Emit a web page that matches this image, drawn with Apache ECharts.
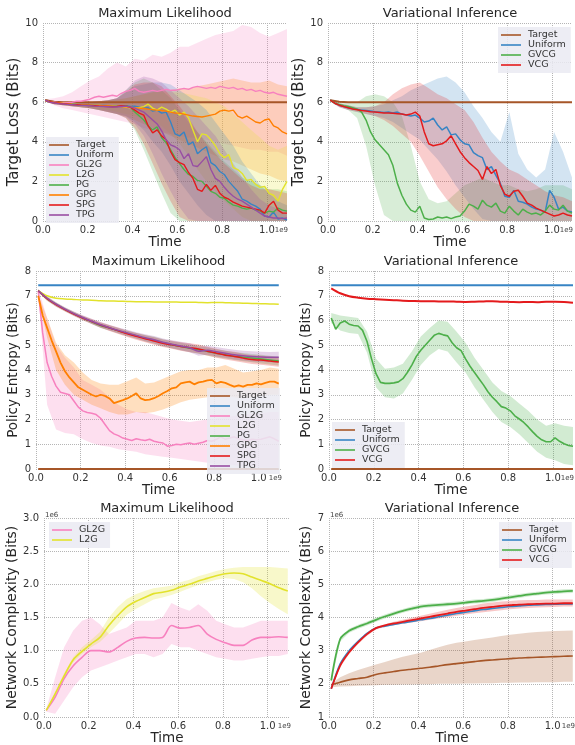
<!DOCTYPE html>
<html>
<head>
<meta charset="utf-8">
<script src="https://cdn.jsdelivr.net/npm/echarts@6/dist/echarts.min.js"></script>
<style>
  html, body { margin: 0; padding: 0; background: #fff; }
  #chart { width: 575px; height: 745px; }
</style>
</head>
<body>
<div id="chart"></div>
<script>
// time axis samples (units of 1e9)
const xFine = [0.01,0.03,0.05,0.07,0.09,0.11,0.13,0.15,0.17,0.19,
  0.21,0.23,0.25,0.27,0.29,0.31,0.33,0.35,0.37,0.39,
  0.41,0.43,0.45,0.47,0.49,0.51,0.53,0.55,0.57,0.59,
  0.61,0.63,0.65,0.67,0.69,0.71,0.73,0.75,0.77,0.79,
  0.81,0.83,0.85,0.87,0.89,0.91,0.93,0.95,0.97,0.99,
  1.01,1.03,1.05,1.07,1.09];
const xCoarse = [0.01,0.05,0.09,0.13,0.17,0.21,0.25,0.29,0.33,0.37,
  0.41,0.45,0.49,0.53,0.57,0.61,0.65,0.69,0.73,0.77,
  0.81,0.85,0.89,0.93,0.97,1.01,1.05,1.09];
const xEnds = [0.01, 1.09];

// ---- Maximum Likelihood / Target Loss ----
const mlLossTarget = [6.1,6.02,6.0,6.0,6.0,6.0,6.0,6.0,6.0,6.0,
  6.0,6.0,6.0,6.0,6.0,6.0,6.0,6.0,6.0,6.0,
  6.0,6.0,6.0,6.0,6.0,6.0,6.0,6.0];
const mlLossUniform = [6.1,6.02,5.98,5.96,5.94,5.92,5.91,5.9,5.88,5.87,
  5.86,5.85,5.84,5.83,5.82,5.81,5.8,5.8,5.82,5.78,
  5.8,5.75,5.7,5.72,5.55,5.6,5.45,5.5,5.0,4.4,
  4.3,4.5,3.85,4.0,3.4,3.6,3.75,2.95,2.8,2.5,
  2.35,2.0,1.75,1.5,1.1,1.0,0.85,0.75,0.6,0.25,
  0.2,0.45,0.1,0.15,0.05];
const mlLossGL2G = [6.1,6.02,6.0,5.98,5.97,5.98,6.0,6.05,6.05,6.1,
  6.15,6.25,6.3,6.25,6.3,6.35,6.3,6.45,6.55,6.6,
  6.7,6.55,6.5,6.55,6.6,6.55,6.6,6.65,6.6,6.6,
  6.65,6.7,6.65,6.75,6.8,6.75,6.7,6.75,6.7,6.8,
  6.75,6.7,6.75,6.65,6.7,6.6,6.65,6.55,6.6,6.5,
  6.45,6.5,6.4,6.35,6.3];
const mlLossL2G = [6.1,6.02,5.98,5.96,5.94,5.92,5.9,5.89,5.88,5.86,
  5.85,5.84,5.83,5.82,5.81,5.8,5.78,5.8,5.75,5.72,
  5.7,5.72,5.78,5.9,5.7,5.6,5.75,5.65,5.5,5.6,
  5.35,5.5,5.2,4.6,4.0,4.4,4.35,4.1,3.8,3.4,
  3.2,3.35,2.7,2.6,2.4,2.05,2.1,1.85,1.7,1.75,
  1.4,1.3,1.0,1.6,2.0];
const mlLossPG = [6.1,6.02,5.97,5.95,5.93,5.91,5.89,5.87,5.86,5.85,
  5.83,5.82,5.81,5.8,5.79,5.78,5.78,5.8,5.82,5.75,
  5.5,5.3,5.1,4.8,4.6,4.75,4.2,3.95,3.6,3.2,
  2.9,2.6,2.35,2.25,2.05,2.0,1.75,1.5,1.4,1.2,
  1.15,0.95,0.8,0.75,0.65,0.6,0.65,0.55,0.5,0.4,
  0.5,0.45,0.65,0.55,0.5];
const mlLossGPG = [6.1,6.02,5.98,5.96,5.94,5.92,5.9,5.89,5.87,5.86,
  5.85,5.84,5.83,5.82,5.81,5.8,5.79,5.78,5.77,5.75,
  5.72,5.7,5.68,5.65,5.62,5.6,5.58,5.55,5.5,5.45,
  5.45,5.4,5.35,5.3,5.28,5.25,5.3,5.35,5.4,5.55,
  5.6,5.55,5.6,5.3,5.2,5.3,5.15,5.0,4.95,5.1,
  5.15,4.8,4.7,4.5,4.4];
const mlLossSPG = [6.1,6.02,5.97,5.95,5.92,5.9,5.88,5.87,5.85,5.84,
  5.83,5.82,5.8,5.79,5.78,5.77,5.78,5.82,5.8,5.75,
  5.6,5.45,5.35,4.8,4.45,4.6,4.3,4.1,3.5,3.1,
  2.95,2.85,2.45,2.15,1.6,1.5,1.85,1.55,1.8,1.4,
  1.2,1.1,0.95,0.85,0.75,0.7,0.65,0.6,0.55,0.4,
  0.8,1.0,0.55,0.4,0.4];
const mlLossTPG = [6.1,6.0,5.96,5.93,5.91,5.89,5.87,5.85,5.84,5.83,
  5.82,5.8,5.79,5.78,5.77,5.76,5.76,5.78,5.8,5.75,
  5.7,5.6,5.5,5.3,5.1,4.9,4.55,4.1,3.85,3.75,
  3.6,3.15,3.4,2.8,2.75,3.0,3.25,2.6,2.15,2.0,
  1.7,1.45,1.25,1.1,1.0,0.85,0.7,0.55,0.4,0.25,
  0.2,0.15,0.15,0.12,0.15];
// spread bands (on xCoarse)
const mlLossUniformLo = [6.05,5.9,5.85,5.8,5.75,5.7,5.6,5.5,5.4,5.3,5.0,4.6,4.0,3.5,2.8,2.0,1.4,0.8,0.3,0,0,0,0,0,0,0,0,0];
const mlLossUniformHi = [6.15,6.05,6.0,6.0,6.0,6.0,6.05,6.1,6.2,6.5,6.8,6.9,7.0,7.0,6.9,6.6,6.3,6.0,5.6,5.0,4.4,3.8,3.0,2.4,1.8,1.4,1.0,0.8];
const mlLossGL2GLo = [6.05,5.85,5.7,5.6,5.5,5.4,5.3,5.2,5.1,5.0,4.9,4.7,4.6,4.5,4.4,4.3,4.2,4.2,4.1,4.0,3.9,3.8,3.7,3.6,3.6,3.5,3.5,3.3];
const mlLossGL2GHi = [6.15,6.2,6.3,6.5,6.8,7.1,7.3,7.7,8.0,7.8,8.2,8.1,8.4,8.3,8.5,8.8,8.8,9.0,9.2,9.4,9.5,9.6,9.9,9.8,9.5,9.3,9.5,9.7];
const mlLossL2GLo = [6.05,5.9,5.85,5.8,5.75,5.7,5.65,5.6,5.5,5.4,5.3,5.2,5.0,4.8,4.4,3.9,3.3,2.6,2.0,1.5,1.0,0.6,0.2,0,0,0,0,0];
const mlLossL2GHi = [6.15,6.05,6.0,6.0,6.0,6.0,6.0,6.05,6.1,6.2,6.3,6.4,6.5,6.5,6.5,6.5,6.4,6.3,6.2,6.0,5.8,5.4,5.0,4.6,4.2,3.8,3.6,3.8];
const mlLossPGLo = [6.05,5.9,5.85,5.8,5.75,5.7,5.6,5.5,5.4,5.2,4.6,3.6,2.5,1.4,0.4,0,0,0,0,0,0,0,0,0,0,0,0,0];
const mlLossPGHi = [6.15,6.05,6.0,6.0,6.0,6.0,6.05,6.1,6.2,6.6,7.0,7.2,7.0,6.6,6.2,5.6,5.0,4.5,4.0,3.5,3.0,2.6,2.2,2.0,1.8,1.6,1.6,1.5];
const mlLossGPGLo = [6.05,5.9,5.85,5.8,5.75,5.7,5.6,5.5,5.4,5.3,5.1,4.9,4.7,4.5,4.3,4.1,3.9,3.7,3.5,3.3,3.1,3.0,2.8,2.6,2.4,2.3,2.1,2.0];
const mlLossGPGHi = [6.15,6.05,6.0,6.0,6.0,6.0,6.05,6.1,6.15,6.2,6.3,6.4,6.5,6.6,6.6,6.7,6.7,6.8,6.9,7.0,7.1,7.2,7.1,7.0,7.0,7.1,6.9,6.8];
const mlLossSPGLo = [6.05,5.9,5.85,5.8,5.75,5.7,5.6,5.5,5.4,5.2,4.7,3.9,2.9,1.9,1.0,0.2,0,0,0,0,0,0,0,0,0,0,0,0];
const mlLossSPGHi = [6.15,6.05,6.0,6.0,6.0,6.0,6.05,6.1,6.2,6.5,6.9,7.0,7.0,6.8,6.3,5.8,5.2,4.5,3.9,3.4,2.9,2.5,2.1,1.8,1.6,1.6,1.5,1.4];
const mlLossTPGLo = [6.05,5.9,5.85,5.8,5.75,5.7,5.6,5.5,5.4,5.25,4.9,4.3,3.4,2.4,1.5,0.7,0.1,0,0,0,0,0,0,0,0,0,0,0];
const mlLossTPGHi = [6.15,6.05,6.0,6.0,6.0,6.0,6.05,6.1,6.2,6.6,7.1,7.3,7.2,7.0,6.6,6.2,5.8,5.3,4.8,4.3,3.6,2.9,2.2,1.6,1.1,0.8,0.6,0.5];

// ---- Variational Inference / Target Loss ----
const viLossTarget = [6.1,6.02,6.0,6.0,6.0,6.0,6.0,6.0,6.0,6.0,
  6.0,6.0,6.0,6.0,6.0,6.0,6.0,6.0,6.0,6.0,
  6.0,6.0,6.0,6.0,6.0,6.0,6.0,6.0];
const viLossUniform = [6.1,5.95,5.85,5.78,5.72,5.68,5.64,5.6,5.58,5.55,
  5.52,5.5,5.48,5.5,5.45,5.5,5.4,5.35,5.3,5.35,
  5.2,5.0,5.05,5.2,4.85,4.6,4.75,4.35,4.4,4.1,
  3.9,3.85,3.45,3.3,3.2,2.6,2.75,2.3,1.9,1.25,
  1.2,1.55,1.0,0.95,0.85,0.7,0.6,0.55,0.45,1.55,
  1.2,0.6,0.7,0.5,0.45];
const viLossGVCG = [6.1,5.95,5.88,5.82,5.78,5.72,5.65,5.5,5.1,4.5,
  4.1,3.85,3.6,3.35,2.8,1.9,1.3,0.85,0.55,0.45,
  0.75,0.15,0.08,0.1,0.2,0.15,0.2,0.12,0.2,0.25,
  0.5,0.85,0.75,0.6,1.05,0.8,0.7,0.9,0.5,0.4,
  0.75,0.5,0.3,0.6,0.45,0.35,0.4,0.3,0.5,0.8,
  0.6,0.55,0.8,0.5,0.4];
const viLossVCG = [6.1,5.95,5.85,5.78,5.72,5.66,5.62,5.58,5.55,5.52,
  5.5,5.48,5.46,5.45,5.44,5.42,5.4,5.35,5.4,5.5,
  5.3,4.5,3.9,3.8,3.85,3.9,4.05,4.3,3.9,3.5,
  3.2,2.95,2.75,2.55,2.1,2.75,2.4,2.6,1.8,1.35,
  1.25,1.5,1.55,1.25,0.9,0.8,0.65,0.55,0.45,0.35,
  0.25,0.3,0.4,0.3,0.25];
const viLossUniformLo = [6.05,5.75,5.6,5.5,5.4,5.3,5.2,5.0,4.7,4.4,4.1,3.6,3.1,2.5,1.8,1.2,0.6,0.1,0,0,0,0,0,0,0,0,0,0];
const viLossUniformHi = [6.15,5.95,5.85,5.75,5.75,5.8,5.9,6.1,6.3,6.6,6.8,7.0,7.2,7.3,7.0,6.5,5.8,5.2,4.5,4.0,5.5,3.4,2.6,2.2,2.6,4.5,3.5,2.2];
const viLossGVCGLo = [6.05,5.8,5.6,5.2,3.8,1.8,0.3,0,0,0,0,0,0,0,0,0,0,0,0,0,0,0,0,0,0,0,0,0];
const viLossGVCGHi = [6.15,6.0,5.95,6.0,6.3,6.4,6.3,6.0,5.3,3.8,2.0,1.1,0.9,1.0,1.4,1.8,2.0,2.2,2.0,1.8,1.8,1.6,1.5,1.6,1.8,1.8,1.8,1.6];
const viLossVCGLo = [6.05,5.75,5.6,5.5,5.4,5.3,5.1,4.8,4.4,4.0,3.3,2.5,1.7,1.1,0.6,0.2,0,0,0,0,0,0,0,0,0,0,0,0];
const viLossVCGHi = [6.15,5.95,5.85,5.75,5.75,5.8,6.0,6.4,6.7,6.9,7.0,6.7,6.4,6.2,5.9,5.6,5.0,4.2,3.5,3.0,2.6,2.4,2.1,1.8,1.5,1.3,1.2,1.0];

// ---- Maximum Likelihood / Policy Entropy ----
const mlEntTarget = [0, 0];
const mlEntUniform = [7.42, 7.42];
const mlEntL2G = [7.2,7.0,6.9,6.87,6.85,6.83,6.82,6.8,6.79,6.78,
  6.77,6.76,6.76,6.75,6.75,6.75,6.74,6.74,6.73,6.72,
  6.73,6.72,6.71,6.7,6.69,6.68,6.67,6.66];
const mlEntPG = [7.2,6.88,6.65,6.45,6.27,6.1,5.95,5.8,5.7,5.58,
  5.48,5.38,5.28,5.2,5.1,5.02,4.95,4.88,4.82,4.75,
  4.68,4.62,4.56,4.52,4.48,4.44,4.4,4.36];
const mlEntSPG = [7.2,6.88,6.64,6.44,6.26,6.1,5.96,5.82,5.7,5.58,
  5.46,5.36,5.26,5.17,5.08,5.02,4.95,4.9,4.85,4.76,
  4.68,4.6,4.55,4.48,4.42,4.4,4.36,4.32];
const mlEntTPG = [7.2,6.9,6.66,6.46,6.28,6.12,5.97,5.83,5.71,5.6,
  5.5,5.4,5.3,5.22,5.12,5.04,4.97,4.9,4.76,4.8,
  4.74,4.68,4.62,4.58,4.55,4.53,4.52,4.52];
const mlEntGPG = [7.0,6.2,5.7,5.2,4.75,4.3,3.95,3.7,3.5,3.3,
  3.2,3.1,3.0,2.93,3.0,2.95,2.85,2.66,2.72,2.78,
  2.85,2.95,3.06,2.85,2.78,2.8,2.86,2.95,3.06,3.15,
  3.26,3.3,3.46,3.5,3.53,3.42,3.5,3.53,3.58,3.6,
  3.46,3.52,3.48,3.4,3.33,3.38,3.33,3.4,3.4,3.46,
  3.42,3.48,3.53,3.53,3.45];
const mlEntGL2G = [7.2,5.5,4.3,3.75,3.35,3.1,3.05,3.0,2.75,2.5,
  2.35,2.28,2.25,2.2,2.05,1.8,1.55,1.42,1.35,1.25,
  1.2,1.15,1.22,1.18,1.15,1.2,1.12,1.08,1.05,0.92,
  0.95,1.0,0.98,1.02,1.05,1.0,1.04,1.08,1.15,1.12,
  1.2,1.3,1.2,1.25,1.3,1.22,1.18,1.15,1.2,1.18,
  1.2,1.25,1.3,1.22,1.12];
const mlEntPGLo = [7.15,6.8,6.57,6.37,6.19,6.02,5.86,5.7,5.6,5.47,5.36,5.26,5.15,5.06,4.96,4.88,4.8,4.73,4.66,4.59,4.52,4.46,4.4,4.35,4.31,4.26,4.22,4.18];
const mlEntPGHi = [7.25,6.96,6.73,6.53,6.35,6.18,6.04,5.9,5.8,5.69,5.6,5.5,5.41,5.34,5.24,5.16,5.1,5.03,4.98,4.91,4.84,4.78,4.72,4.69,4.65,4.62,4.58,4.54];
const mlEntSPGLo = [7.15,6.8,6.56,6.36,6.18,6.01,5.86,5.71,5.58,5.45,5.33,5.22,5.12,5.02,4.93,4.86,4.78,4.72,4.67,4.58,4.5,4.42,4.36,4.3,4.24,4.21,4.17,4.13];
const mlEntSPGHi = [7.25,6.96,6.72,6.52,6.34,6.19,6.06,5.93,5.82,5.71,5.59,5.5,5.4,5.32,5.23,5.18,5.12,5.08,5.03,4.94,4.86,4.78,4.74,4.66,4.6,4.59,4.55,4.51];
const mlEntTPGLo = [7.15,6.82,6.58,6.38,6.2,6.03,5.87,5.72,5.6,5.48,5.37,5.27,5.16,5.07,4.97,4.88,4.8,4.72,4.58,4.62,4.55,4.49,4.42,4.38,4.34,4.32,4.31,4.3];
const mlEntTPGHi = [7.25,6.98,6.74,6.54,6.36,6.21,6.07,5.94,5.82,5.72,5.63,5.53,5.44,5.37,5.27,5.2,5.14,5.08,4.94,4.98,4.93,4.87,4.82,4.78,4.76,4.74,4.73,4.74];
const mlEntGPGLo = [6.95,5.3,4.0,3.4,3.0,2.8,2.6,2.45,2.3,2.2,2.2,2.3,2.25,2.3,2.4,2.55,2.7,2.8,2.85,2.9,2.95,2.95,2.9,2.85,2.9,2.95,3.0,3.0];
const mlEntGPGHi = [7.05,6.1,5.1,4.6,4.3,3.9,3.6,3.45,3.4,3.4,3.55,3.7,3.45,3.5,3.65,3.8,3.95,4.0,4.0,4.1,4.1,4.2,4.05,3.9,3.95,4.0,4.1,4.05];
const mlEntGL2GLo = [7.1,2.6,1.6,1.45,1.4,1.2,1.05,0.95,0.9,0.8,0.75,0.7,0.6,0.55,0.5,0.45,0.4,0.35,0.3,0.25,0.2,0.2,0.15,0.1,0.1,0.05,0.05,0.05];
const mlEntGL2GHi = [7.3,6.1,5.0,4.5,4.1,3.6,3.4,3.2,2.9,2.6,2.4,2.3,2.3,2.2,2.1,2.0,1.95,1.9,1.95,2.0,2.05,2.1,2.15,2.2,2.25,2.25,2.3,2.3];

// ---- Variational Inference / Policy Entropy ----
const viEntTarget = [0, 0];
const viEntUniform = [7.42, 7.42];
const viEntVCG = [7.3,7.1,6.98,6.92,6.88,6.86,6.84,6.82,6.8,6.79,
  6.78,6.78,6.77,6.77,6.76,6.75,6.76,6.77,6.78,6.76,
  6.75,6.74,6.75,6.74,6.76,6.76,6.75,6.72];
const viEntGVCG = [6.1,5.65,5.9,5.98,5.85,5.8,5.78,5.6,5.15,4.45,
  3.85,3.5,3.46,3.46,3.48,3.52,3.65,3.9,4.2,4.55,
  4.8,5.0,5.2,5.4,5.48,5.42,5.38,5.1,4.9,4.78,
  4.45,4.15,3.9,3.65,3.4,3.12,2.9,2.72,2.52,2.46,
  2.35,2.15,2.02,1.88,1.7,1.5,1.32,1.18,1.1,1.1,
  1.26,1.12,1.02,0.95,0.92];
const viEntGVCGLo = [5.9,5.6,5.5,5.45,4.7,3.3,2.9,2.85,3.05,3.6,4.2,4.6,4.85,4.75,4.3,3.9,3.3,2.8,2.3,1.9,1.7,1.4,1.05,0.7,0.45,0.35,0.2,0.15];
const viEntGVCGHi = [6.3,6.2,6.15,6.1,5.55,4.45,4.05,4.1,4.25,4.75,5.35,5.7,6.0,5.95,5.55,5.1,4.5,4.0,3.5,3.15,2.95,2.65,2.35,2.0,1.75,1.85,1.75,1.7];

// ---- Maximum Likelihood / Network Complexity (1e6) ----
const mlCxL2G = [0.1,0.35,0.62,0.86,0.99,1.1,1.2,1.38,1.53,1.66,
  1.74,1.8,1.86,1.88,1.91,1.96,2.0,2.05,2.09,2.13,
  2.16,2.17,2.16,2.11,2.06,2.01,1.95,1.9];
const mlCxL2GLo = [0.09,0.32,0.58,0.82,0.95,1.05,1.13,1.26,1.4,1.54,1.63,1.7,1.77,1.8,1.84,1.89,1.94,1.99,2.03,2.07,2.09,2.08,2.03,1.94,1.82,1.72,1.63,1.55];
const mlCxL2GHi = [0.11,0.38,0.66,0.9,1.05,1.16,1.28,1.5,1.66,1.78,1.85,1.9,1.94,1.96,1.98,2.03,2.07,2.12,2.16,2.2,2.23,2.25,2.26,2.26,2.26,2.26,2.25,2.24];
const mlCxGL2G = [0.1,0.3,0.58,0.77,0.9,1.0,1.0,0.98,1.05,1.14,
  1.19,1.2,1.19,1.2,1.38,1.34,1.35,1.38,1.25,1.17,
  1.12,1.08,1.08,1.16,1.2,1.2,1.21,1.2];
const mlCxGL2GLo = [0.08,0.05,0.25,0.45,0.6,0.7,0.75,0.8,0.85,0.9,0.95,0.95,0.9,0.95,1.1,1.05,1.05,1.0,0.95,0.9,0.88,0.85,0.85,0.88,0.9,0.92,0.92,0.95];
const mlCxGL2GHi = [0.12,0.6,1.05,1.3,1.45,1.5,1.4,1.25,1.3,1.35,1.45,1.45,1.45,1.5,1.72,1.65,1.6,1.7,1.6,1.45,1.4,1.35,1.35,1.4,1.45,1.45,1.45,1.45];

// ---- Variational Inference / Network Complexity (1e6) ----
const viCxTarget = [1.97,2.05,2.12,2.16,2.2,2.28,2.33,2.37,2.41,2.44,
  2.47,2.5,2.54,2.58,2.61,2.64,2.67,2.7,2.72,2.74,
  2.76,2.78,2.79,2.8,2.81,2.82,2.83,2.84];
const viCxTargetLo = [1.9,1.92,1.93,1.94,1.95,1.96,1.97,1.97,1.98,1.98,1.99,1.99,2.0,2.0,2.0,2.01,2.01,2.02,2.02,2.03,2.03,2.04,2.04,2.05,2.05,2.05,2.06,2.06];
const viCxTargetHi = [2.0,2.2,2.32,2.42,2.5,2.58,2.66,2.74,2.82,2.88,2.94,3.02,3.1,3.18,3.24,3.28,3.32,3.36,3.4,3.44,3.48,3.51,3.54,3.56,3.58,3.59,3.6,3.61];
const viCxUniform = [1.85,2.6,3.0,3.28,3.52,3.68,3.74,3.79,3.84,3.88,
  3.93,3.97,4.02,4.07,4.12,4.16,4.2,4.24,4.27,4.3,
  4.33,4.35,4.37,4.38,4.39,4.4,4.41,4.41];
const viCxGVCG = [2.1,3.35,3.6,3.72,3.82,3.93,4.03,4.12,4.2,4.27,
  4.33,4.36,4.38,4.4,4.42,4.45,4.48,4.5,4.53,4.57,
  4.61,4.65,4.69,4.72,4.75,4.77,4.79,4.8];
const viCxGVCGLo = [2.05,3.28,3.54,3.66,3.76,3.87,3.97,4.06,4.14,4.21,4.27,4.3,4.32,4.34,4.36,4.39,4.42,4.44,4.47,4.51,4.55,4.59,4.63,4.66,4.69,4.71,4.73,4.74];
const viCxGVCGHi = [2.15,3.42,3.66,3.78,3.88,3.99,4.09,4.18,4.26,4.33,4.39,4.42,4.44,4.46,4.48,4.51,4.54,4.56,4.59,4.63,4.67,4.71,4.75,4.78,4.81,4.83,4.85,4.86];
const viCxVCG = [1.85,2.55,2.95,3.25,3.5,3.68,3.76,3.82,3.87,3.92,
  3.97,4.02,4.07,4.12,4.17,4.21,4.25,4.29,4.32,4.35,
  4.37,4.39,4.4,4.41,4.42,4.42,4.43,4.43];
const viCxVCGLo = [1.82,2.5,2.9,3.2,3.45,3.64,3.72,3.77,3.81,3.85,3.89,3.93,3.97,4.01,4.05,4.09,4.13,4.16,4.19,4.22,4.25,4.27,4.29,4.3,4.31,4.32,4.33,4.33];
const viCxVCGHi = [1.88,2.6,3.0,3.3,3.55,3.72,3.8,3.87,3.93,3.99,4.05,4.11,4.17,4.23,4.29,4.33,4.37,4.42,4.45,4.48,4.5,4.52,4.53,4.53,4.54,4.54,4.54,4.54];

const mlNames = ['Target', 'Uniform', 'GL2G', 'L2G', 'PG', 'GPG', 'SPG', 'TPG'];
const viNames = ['Target', 'Uniform', 'GVCG', 'VCG'];

const colors = {
  Target: '#a65628', Uniform: '#3784c4', GL2G: '#f781bf', L2G: '#e2e22c',
  PG: '#4daf4a', GPG: '#ff7f00', SPG: '#e41a1c', TPG: '#984ea3',
  GVCG: '#4daf4a', VCG: '#e41a1c'
};
const font = 'DejaVu Sans';

// 6 panels, 3 rows x 2 cols
const panels = [
  {title: 'Maximum Likelihood', left: 43, top: 23, width: 244, height: 198, xMax: 1.09, yMin: 0, yMax: 10, yStep: 2, yName: 'Target Loss (Bits)', yFont: 15, yGap: 20, dec: 0},
  {title: 'Variational Inference', left: 328, top: 23, width: 244, height: 198, xMax: 1.09, yMin: 0, yMax: 10, yStep: 2, yName: 'Target Loss (Bits)', yFont: 15, yGap: 20, dec: 0},
  {title: 'Maximum Likelihood', left: 36, top: 271, width: 245, height: 198, xMax: 1.10, yMin: 0, yMax: 8, yStep: 1, yName: 'Policy Entropy (Bits)', yFont: 13.5, yGap: 15, dec: 0},
  {title: 'Variational Inference', left: 329, top: 271, width: 244, height: 198, xMax: 1.09, yMin: 0, yMax: 8, yStep: 1, yName: 'Policy Entropy (Bits)', yFont: 13.5, yGap: 15, dec: 0},
  {title: 'Maximum Likelihood', left: 44, top: 518, width: 246, height: 199, xMax: 1.10, yMin: 0, yMax: 3, yStep: 0.5, yName: 'Network Complexity (Bits)', yFont: 14, yGap: 23, dec: 1},
  {title: 'Variational Inference', left: 329, top: 518, width: 246, height: 199, xMax: 1.10, yMin: 1, yMax: 7, yStep: 1, yName: 'Network Complexity (Bits)', yFont: 14, yGap: 15, dec: 0}
];

function line(p, name, xs, ys, width, smooth) {
  return {
    type: 'line', name: name, xAxisIndex: p, yAxisIndex: p, z: 3,
    data: xs.map((x, i) => [x, ys[i]]),
    symbol: 'none', smooth: smooth || false,
    lineStyle: {width: width, color: colors[name]},
    itemStyle: {color: colors[name]}
  };
}

// shaded spread: polygon from lo (forward) and hi (backward)
function band(p, name, xs, lo, hi, alpha) {
  return {
    type: 'custom', xAxisIndex: p, yAxisIndex: p, z: 1, silent: true,
    data: xs.map((x, i) => [x, lo[i], hi[i]]),
    encode: {x: 0, y: [1, 2]},
    renderItem: function (params, api) {
      if (params.dataIndexInside !== 0) return;
      const n = params.dataInsideLength;
      const pts = [];
      for (let i = 0; i < n; i++) pts.push(api.coord([api.value(0, i), api.value(1, i)]));
      for (let i = n - 1; i >= 0; i--) pts.push(api.coord([api.value(0, i), api.value(2, i)]));
      return {
        type: 'polygon', shape: {points: pts},
        style: {fill: echarts.color.modifyAlpha(colors[name], alpha || 0.22)}
      };
    }
  };
}

const series = [
  // panel 0
  band(0, 'GL2G', xCoarse, mlLossGL2GLo, mlLossGL2GHi),
  band(0, 'GPG', xCoarse, mlLossGPGLo, mlLossGPGHi),
  band(0, 'L2G', xCoarse, mlLossL2GLo, mlLossL2GHi),
  band(0, 'Uniform', xCoarse, mlLossUniformLo, mlLossUniformHi),
  band(0, 'PG', xCoarse, mlLossPGLo, mlLossPGHi),
  band(0, 'SPG', xCoarse, mlLossSPGLo, mlLossSPGHi),
  band(0, 'TPG', xCoarse, mlLossTPGLo, mlLossTPGHi),
  line(0, 'Target', xCoarse, mlLossTarget, 2),
  line(0, 'Uniform', xFine, mlLossUniform, 1.4),
  line(0, 'GL2G', xFine, mlLossGL2G, 1.4),
  line(0, 'L2G', xFine, mlLossL2G, 1.4),
  line(0, 'PG', xFine, mlLossPG, 1.4),
  line(0, 'GPG', xFine, mlLossGPG, 1.4),
  line(0, 'SPG', xFine, mlLossSPG, 1.4),
  line(0, 'TPG', xFine, mlLossTPG, 1.4),
  // panel 1
  band(1, 'GVCG', xCoarse, viLossGVCGLo, viLossGVCGHi),
  band(1, 'Uniform', xCoarse, viLossUniformLo, viLossUniformHi),
  band(1, 'VCG', xCoarse, viLossVCGLo, viLossVCGHi),
  line(1, 'Target', xCoarse, viLossTarget, 2),
  line(1, 'Uniform', xFine, viLossUniform, 1.5),
  line(1, 'GVCG', xFine, viLossGVCG, 1.5),
  line(1, 'VCG', xFine, viLossVCG, 1.5),
  // panel 2
  band(2, 'GL2G', xCoarse, mlEntGL2GLo, mlEntGL2GHi, 0.25),
  band(2, 'GPG', xCoarse, mlEntGPGLo, mlEntGPGHi, 0.25),
  band(2, 'PG', xCoarse, mlEntPGLo, mlEntPGHi, 0.25),
  band(2, 'SPG', xCoarse, mlEntSPGLo, mlEntSPGHi, 0.25),
  band(2, 'TPG', xCoarse, mlEntTPGLo, mlEntTPGHi, 0.25),
  line(2, 'Target', xEnds, mlEntTarget, 2),
  line(2, 'Uniform', xEnds, mlEntUniform, 2),
  line(2, 'GL2G', xFine, mlEntGL2G, 1.5),
  line(2, 'L2G', xCoarse, mlEntL2G, 1.5, 0.3),
  line(2, 'PG', xCoarse, mlEntPG, 1.5, 0.3),
  line(2, 'GPG', xFine, mlEntGPG, 1.8),
  line(2, 'SPG', xCoarse, mlEntSPG, 1.5, 0.3),
  line(2, 'TPG', xCoarse, mlEntTPG, 1.5, 0.3),
  // panel 3
  band(3, 'GVCG', xCoarse, viEntGVCGLo, viEntGVCGHi, 0.25),
  line(3, 'Target', xEnds, viEntTarget, 2),
  line(3, 'Uniform', xEnds, viEntUniform, 2),
  line(3, 'GVCG', xFine, viEntGVCG, 1.6),
  line(3, 'VCG', xCoarse, viEntVCG, 2, 0.3),
  // panel 4
  band(4, 'GL2G', xCoarse, mlCxGL2GLo, mlCxGL2GHi, 0.25),
  band(4, 'L2G', xCoarse, mlCxL2GLo, mlCxL2GHi, 0.25),
  line(4, 'GL2G', xCoarse, mlCxGL2G, 1.6, 0.3),
  line(4, 'L2G', xCoarse, mlCxL2G, 1.6, 0.3),
  // panel 5
  band(5, 'Target', xCoarse, viCxTargetLo, viCxTargetHi, 0.25),
  band(5, 'GVCG', xCoarse, viCxGVCGLo, viCxGVCGHi, 0.25),
  band(5, 'VCG', xCoarse, viCxVCGLo, viCxVCGHi, 0.25),
  line(5, 'Target', xCoarse, viCxTarget, 1.6, 0.3),
  line(5, 'Uniform', xCoarse, viCxUniform, 1.6, 0.3),
  line(5, 'GVCG', xCoarse, viCxGVCG, 1.8, 0.3),
  line(5, 'VCG', xCoarse, viCxVCG, 1.8, 0.3)
];

function legend(names, left, top) {
  return {
    data: names, left: left, top: top, orient: 'vertical',
    icon: 'rect', itemWidth: 20, itemHeight: 2, itemGap: 0,
    itemStyle: {opacity: 0.8},
    padding: [3, 5, 3, 3],
    backgroundColor: 'rgba(234,234,242,0.85)',
    selectedMode: false,
    textStyle: {fontSize: 9.5, lineHeight: 9, color: '#333', fontFamily: font, padding: [0, 0, 0, 2]}
  };
}

const gridLine = {show: true, showMaxLine: false, lineStyle: {type: 'dotted', color: '#b5b5b5', width: 1}};

const option = {
  animation: false,
  backgroundColor: '#fff',
  title: panels.map(p => ({
    text: p.title, left: p.left + p.width / 2, top: p.top - 16,
    textAlign: 'center', padding: 0,
    textStyle: {fontSize: 13, fontWeight: 'normal', color: '#262626', fontFamily: font}
  })),
  legend: [
    legend(mlNames, 46, 137),
    legend(viNames, 498, 27),
    legend(mlNames, 207, 388),
    legend(viNames, 332, 422),
    legend(['GL2G', 'L2G'], 49, 522),
    legend(viNames, 499, 522)
  ],
  grid: panels.map(p => ({left: p.left, top: p.top, width: p.width, height: p.height, outerBoundsMode: 'none'})),
  xAxis: panels.map((p, i) => ({
    type: 'value', gridIndex: i, min: 0, max: p.xMax, interval: 0.2,
    name: 'Time', nameLocation: 'middle', nameGap: 14,
    nameTextStyle: {fontSize: 13.5, color: '#262626', fontFamily: font},
    axisLine: {show: false}, axisTick: {show: false},
    axisLabel: {
      fontSize: 10, color: '#333', fontFamily: font, margin: 4, showMaxLabel: false,
      formatter: v => (Math.abs(v * 5 - Math.round(v * 5)) < 1e-6 ? v.toFixed(1) : '')
    },
    splitLine: gridLine
  })),
  yAxis: panels.map((p, i) => ({
    type: 'value', gridIndex: i, min: p.yMin, max: p.yMax, interval: p.yStep,
    name: p.yName, nameLocation: 'middle', nameGap: p.yGap,
    nameTextStyle: {fontSize: p.yFont, color: '#262626', fontFamily: font},
    axisLine: {show: false}, axisTick: {show: false},
    axisLabel: {fontSize: 10, color: '#333', fontFamily: font, margin: 5, formatter: v => v.toFixed(p.dec)},
    splitLine: {show: true, lineStyle: {type: 'dotted', color: '#b5b5b5', width: 1}}
  })),
  graphic: [
    ...panels.map(p => ({
      type: 'text', x: Math.min(p.left + p.width + 1, 575), y: p.top + p.height + 9,
      style: {text: '1e9', fontSize: 7, fill: '#444', fontFamily: font, align: 'right', verticalAlign: 'middle'}
    })),
    ...[panels[4], panels[5]].map(p => ({
      type: 'text', x: p.left + 1, y: p.top - 3,
      style: {text: '1e6', fontSize: 7, fill: '#444', fontFamily: font, align: 'left', verticalAlign: 'middle'}
    }))
  ],
  series: series
};

const chart = echarts.init(document.getElementById('chart'), null, {renderer: 'canvas'});
chart.setOption(option);
</script>
</body>
</html>
